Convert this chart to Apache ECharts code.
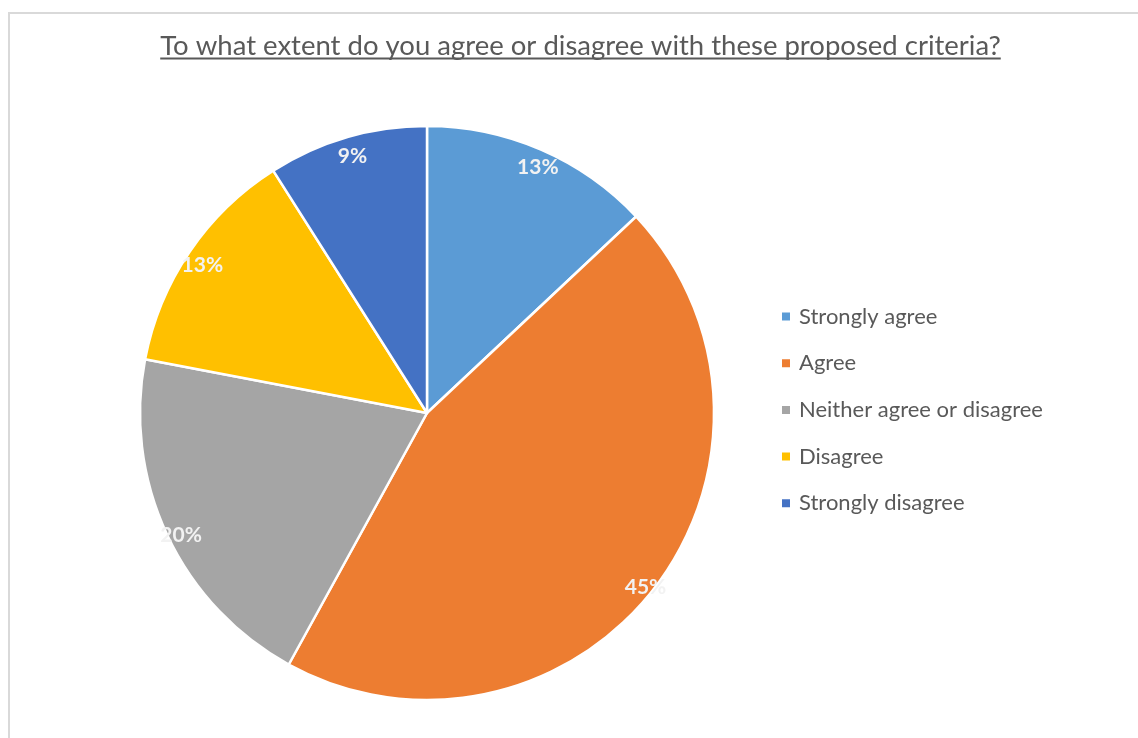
<!DOCTYPE html>
<html>
<head>
<meta charset="utf-8">
<script src="https://cdn.jsdelivr.net/npm/echarts@6/dist/echarts.min.js"></script>
<style>
  html, body { margin: 0; padding: 0; background: #fff; }
  #chart { width: 1138px; height: 738px; }
</style>
</head>
<body>
<div id="chart"></div>
<script>
// Survey responses
const categories = ['Strongly agree', 'Agree', 'Neither agree or disagree', 'Disagree', 'Strongly disagree'];
const shares = [13, 45, 20, 13, 9];
const sliceColors = ['#5B9BD5', '#ED7D31', '#A5A5A5', '#FFC000', '#4472C4'];
const titleText = 'To what extent do you agree or disagree with these proposed criteria?';

const FONT = 'Lato, "Open Sans", sans-serif';
const TITLE_SIZE = 27.5;
const TITLE_CENTER_X = 580.5;

// measure the title so it can be centred and underlined
const measureCtx = document.createElement('canvas').getContext('2d');
measureCtx.font = TITLE_SIZE + 'px ' + FONT;
const titleWidth = measureCtx.measureText(titleText).width;
const titleLeft = TITLE_CENTER_X - titleWidth / 2;

const pieData = categories.map((name, i) => ({
  name: name,
  value: shares[i],
  itemStyle: { color: sliceColors[i] }
}));

const chart = echarts.init(document.getElementById('chart'), null, { renderer: 'canvas' });

chart.setOption({
  animation: false,
  backgroundColor: '#ffffff',
  title: {
    text: titleText,
    left: titleLeft,
    top: 32,
    padding: 0,
    textStyle: {
      fontFamily: FONT,
      fontSize: TITLE_SIZE,
      fontWeight: 'normal',
      color: '#595959'
    }
  },
  legend: {
    orient: 'vertical',
    left: 780,
    top: 304.5,
    padding: 0,
    data: categories,
    icon: 'rect',
    itemWidth: 10,
    itemHeight: 10,
    itemGap: 22.7,
    selectedMode: false,
    textStyle: {
      fontFamily: FONT,
      fontSize: 22,
      lineHeight: 24,
      color: '#595959',
      padding: [0, 0, 0, 3]
    }
  },
  graphic: [
    {
      type: 'rect',
      silent: true,
      shape: { x: 9, y: 13, width: 1300, height: 900 },
      style: { fill: 'none', stroke: '#d9d9d9', lineWidth: 2 }
    },
    {
      type: 'line',
      silent: true,
      shape: { x1: titleLeft, y1: 58.5, x2: titleLeft + titleWidth, y2: 58.5 },
      style: { stroke: '#595959', lineWidth: 2 }
    }
  ],
  series: [
    {
      type: 'pie',
      center: [427, 413],
      radius: [0, 287],
      startAngle: 90,
      clockwise: true,
      data: pieData,
      label: { show: false },
      labelLine: { show: false },
      itemStyle: { borderColor: '#ffffff', borderWidth: 2.5 },
      emphasis: { disabled: true }
    },
    {
      // invisible ring that carries the percentage labels near the rim
      type: 'pie',
      center: [427, 413],
      radius: [255, 287],
      startAngle: 90,
      clockwise: true,
      silent: true,
      data: categories.map((name, i) => ({ name: name, value: shares[i] })),
      itemStyle: { color: 'rgba(0,0,0,0)', borderWidth: 0 },
      label: {
        show: true,
        position: 'inside',
        formatter: p => p.value + '%',
        fontFamily: FONT,
        fontWeight: 'bold',
        fontSize: 21,
        color: '#f2f2f2',
        offset: [2, 6]
      },
      labelLine: { show: false },
      emphasis: { disabled: true }
    }
  ]
});
</script>
</body>
</html>
